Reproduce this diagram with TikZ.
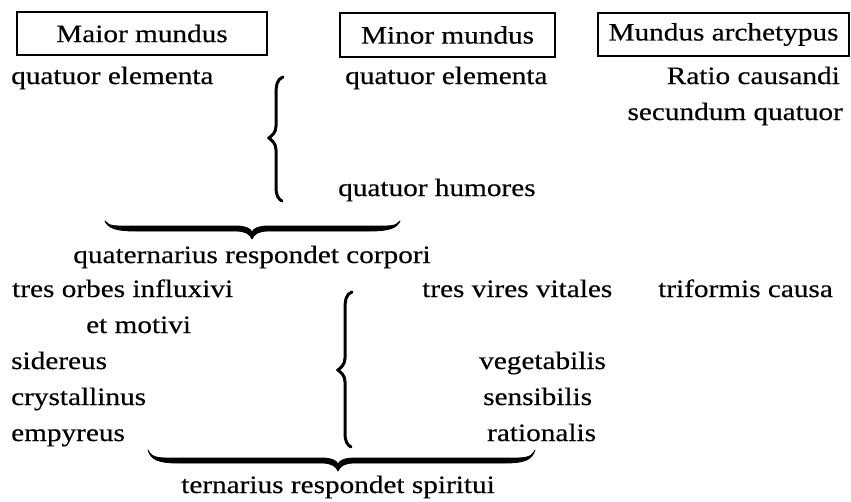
\documentclass[tikz,border=0pt]{standalone}
\usepackage{fontspec}
\setmainfont{Liberation Serif}[FakeStretch=1.17,FakeBold=0.4]
\newcommand\HBrace[5]{%
  \filldraw[line width=0.8pt, line join=round]
    (#1,#4) .. controls ({#1+3},{#5-3}) and ({#1+11},#5) .. ({#1+30},#5)
    -- ({#3-16},#5) .. controls ({#3-7},#5) and ({#3-2},{#5+3}) .. (#3,{#5+8})
    .. controls ({#3+2},{#5+3}) and ({#3+7},#5) .. ({#3+16},#5)
    -- ({#2-30},#5) .. controls ({#2-11},#5) and ({#2-3},{#5-3}) .. (#2,#4)
    .. controls ({#2-4},{#5-4}) and ({#2-12},{#5-5}) .. ({#2-30},{#5-5})
    -- ({#3+16},{#5-5}) .. controls ({#3+7},{#5-5}) and ({#3+2},{#5-3}) .. (#3,{#5+1})
    .. controls ({#3-2},{#5-3}) and ({#3-7},{#5-5}) .. ({#3-16},{#5-5})
    -- ({#1+30},{#5-5}) .. controls ({#1+12},{#5-5}) and ({#1+4},{#5-4}) .. (#1,#4) -- cycle;}
\newcommand\VBrace[4]{%
  \draw[bracestroke]
    ({#1+7},#2) .. controls ({#1+1},{#2+2}) and (#1,{#2+8}) .. (#1,{#2+18})
    -- (#1,{#3-12}) .. controls (#1,{#3-5}) and ({#1-4},{#3-3}) .. ({#1-7},#3)
    .. controls ({#1-4},{#3+3}) and (#1,{#3+5}) .. (#1,{#3+12})
    -- (#1,{#4-14}) .. controls (#1,{#4-6}) and ({#1+2},{#4-2}) .. ({#1+6},#4);}
\begin{document}
\begin{tikzpicture}[x=1pt,y=-1pt,
  txt/.style={inner sep=0pt, font=\fontsize{25}{29}\selectfont},
  lbl/.style={txt, anchor=base west},
  rlbl/.style={txt, anchor=base east},
  clbl/.style={txt, anchor=base},
  mbox/.style={draw, line width=1.3pt, inner sep=0pt, font=\fontsize{25}{29}\selectfont},
  bracestroke/.style={line width=3pt, line cap=round}]
\useasboundingbox (0,0) rectangle (851,501);
% headings
\node[mbox, minimum width=250pt, minimum height=43pt] (b1) at (142,33.5) {Maior mundus};
\node[mbox, minimum width=215pt, minimum height=44pt] (b2) at (447.5,35) {Minor mundus};
\node[mbox, minimum width=251pt, minimum height=43pt] (b3) at (723.5,34.5) {Mundus archetypus};
% upper part
\node[lbl] (qe1) at (11,84) {quatuor elementa};
\node[lbl] (qe2) at (345,84) {quatuor elementa};
\node[rlbl] (rc) at (840,84) {Ratio causandi};
\node[rlbl] (sq) at (843,120) {secundum quatuor};
\node[lbl] (qh) at (338,196) {quatuor humores};
\VBrace{276}{77}{138}{201}
\HBrace{105}{400}{252}{221}{231}
\node[clbl] (qrc) at (252,263) {quaternarius respondet corpori};
% lower part
\node[lbl] (tob) at (12,297) {tres orbes influxivi};
\node[lbl] (em) at (86,333) {et motivi};
\node[lbl] (sid) at (11,369) {sidereus};
\node[lbl] (cry) at (11,405) {crystallinus};
\node[lbl] (emp) at (11,441) {empyreus};
\node[lbl] (tvv) at (422,297) {tres vires vitales};
\node[lbl] (tc) at (658,297) {triformis causa};
\node[lbl] (veg) at (479,369) {vegetabilis};
\node[lbl] (sen) at (483,405) {sensibilis};
\node[lbl] (rat) at (487,441) {rationalis};
\VBrace{345}{292}{370}{447}
\HBrace{148}{535}{338}{450}{463}
\node[clbl] (trs) at (338,493) {ternarius respondet spiritui};
\end{tikzpicture}
\end{document}
